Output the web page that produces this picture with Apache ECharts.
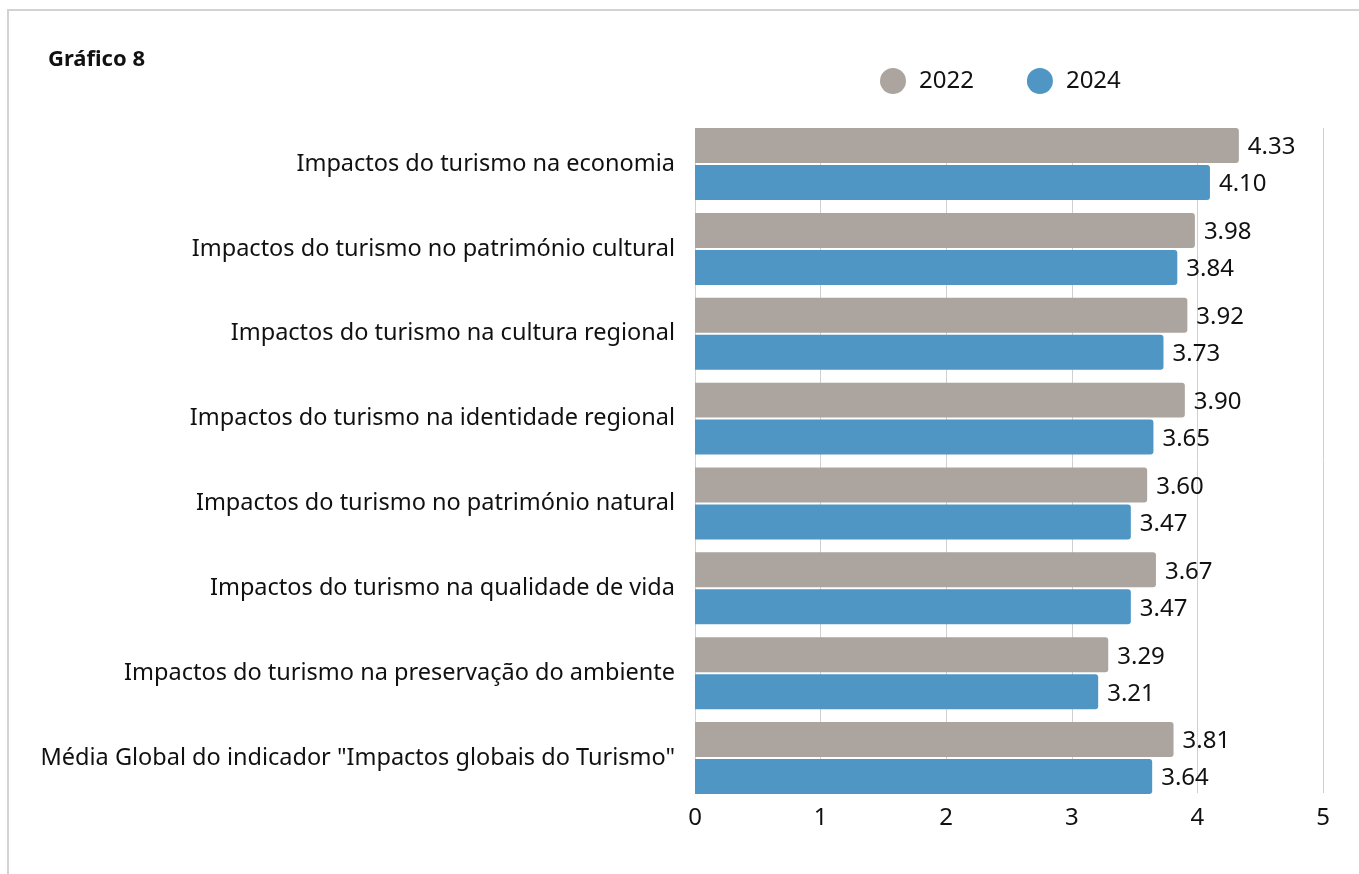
<!DOCTYPE html>
<html><head><meta charset="utf-8">
<script src="https://cdn.jsdelivr.net/npm/echarts@6/dist/echarts.min.js"></script>
<style>
html,body{margin:0;padding:0;background:#fff;}
#frame{position:absolute;left:7px;top:9px;width:1360px;height:870px;border-top:2px solid #d3d3d3;border-left:2px solid #d3d3d3;}
#c{position:absolute;left:0;top:0;width:1359px;height:874px;}
</style></head><body>
<div id="frame"></div>
<div id="c"></div>
<script>
const categories = [
  'Impactos do turismo na economia',
  'Impactos do turismo no património cultural',
  'Impactos do turismo na cultura regional',
  'Impactos do turismo na identidade regional',
  'Impactos do turismo no património natural',
  'Impactos do turismo na qualidade de vida',
  'Impactos do turismo na preservação do ambiente',
  'Média Global do indicador "Impactos globais do Turismo"'
];
const values2022 = [4.33, 3.98, 3.92, 3.90, 3.60, 3.67, 3.29, 3.81];
const values2024 = [4.10, 3.84, 3.73, 3.65, 3.47, 3.47, 3.21, 3.64];
const xTicks = [0, 1, 2, 3, 4, 5];

const font = '"Noto Sans", "Open Sans", sans-serif';
const chart = echarts.init(document.getElementById('c'), null, {renderer: 'canvas'});
const labelCfg = {show: true, position: 'right', distance: 9, offset: [0, 2], color: '#111', fontSize: 24, fontFamily: font, formatter: p => p.value.toFixed(2)};
const xMin = xTicks[0], xMax = xTicks[xTicks.length - 1];
chart.setOption({
  backgroundColor: 'transparent',
  animation: false,
  title: {text: 'Gráfico 8', left: 43, top: 44, textStyle: {fontSize: 22, fontWeight: 'bold', color: '#111', fontFamily: font}},
  legend: {
    data: ['2022', '2024'], left: 875, top: 63, icon: 'circle', itemWidth: 26, itemHeight: 26, itemGap: 53,
    textStyle: {fontSize: 24, color: '#111', fontFamily: font, padding: [0, 0, 0, 8]}
  },
  grid: [
    {left: 695, right: 36, top: 121.6, bottom: 73.5, containLabel: false},
    {left: 695, right: 36, top: 128, bottom: 81, containLabel: false}
  ],
  xAxis: [
    {type: 'value', gridIndex: 0, min: xMin, max: xMax, interval: 1,
     axisLine: {show: false}, axisTick: {show: false}, splitLine: {show: false}, axisLabel: {show: false}},
    {type: 'value', gridIndex: 1, min: xMin, max: xMax, interval: 1,
     axisLine: {show: false}, axisTick: {show: false},
     splitLine: {lineStyle: {color: '#d0d0d0', width: 1}},
     axisLabel: {fontSize: 24, color: '#111', fontFamily: font, margin: 13}}
  ],
  yAxis: [
    {type: 'category', gridIndex: 0, data: categories, inverse: true,
     axisLine: {show: false}, axisTick: {show: false},
     axisLabel: {fontSize: 23.5, color: '#111', fontFamily: font, margin: 20}},
    {type: 'category', gridIndex: 1, data: categories, inverse: true, show: false}
  ],
  series: [
    {name: '2022', type: 'bar', xAxisIndex: 0, yAxisIndex: 0, data: values2022, barGap: '5.7%', barCategoryGap: '15.2%', z: 3,
     itemStyle: {color: '#aca59f', borderRadius: [0, 3, 3, 0]}, label: labelCfg},
    {name: '2024', type: 'bar', xAxisIndex: 0, yAxisIndex: 0, data: values2024, z: 3,
     itemStyle: {color: '#4f96c4', borderRadius: [0, 3, 3, 0]}, label: labelCfg}
  ]
});
</script>
</body></html>
